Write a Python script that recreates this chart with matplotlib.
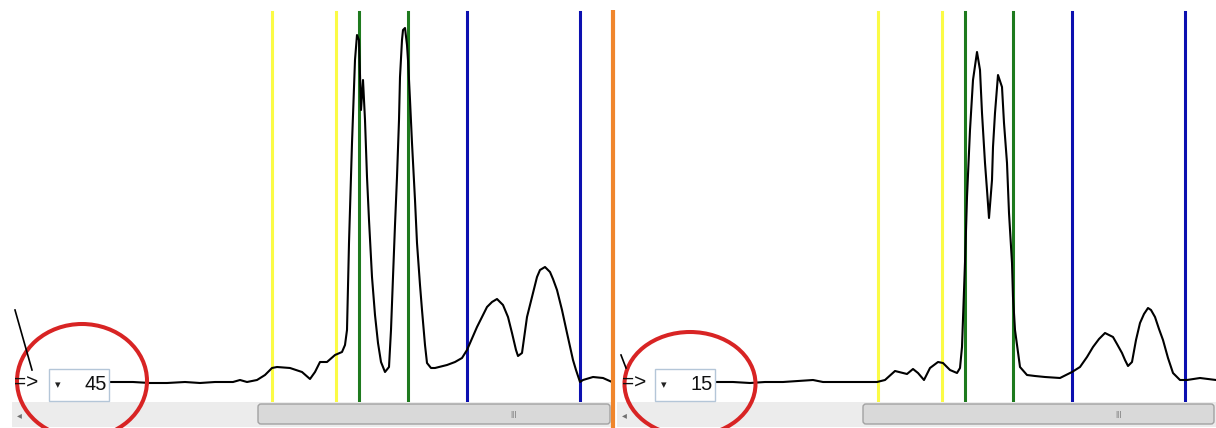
import matplotlib
matplotlib.use("Agg")
import matplotlib.pyplot as plt
from matplotlib.patches import Ellipse, Rectangle, FancyBboxPatch

plt.rcParams['font.family'] = ['Liberation Sans', 'DejaVu Sans']

# trace positions (screen x) and signal height above baseline
left_pos = [110, 133, 150, 167, 185, 200, 215, 233, 240, 247, 257, 265, 272, 277, 290, 302,
            310, 315, 320, 327, 335, 342, 345, 347, 349, 352, 355, 357, 359, 361, 363, 365,
            367, 369, 372, 375, 378, 381, 385, 389, 391, 393, 395, 397, 399, 400, 402, 403,
            405, 407, 408, 410, 412, 415, 417, 420, 422, 425, 427, 431, 435, 447, 455, 462,
            467, 477, 487, 492, 497, 503, 508, 512, 516, 518, 522, 527, 532, 537, 540, 545,
            550, 553, 557, 562, 567, 573, 576, 580, 583, 593, 603, 612]
left_sig = [0, 0, -1, -1, 0, -1, 0, 0, 2, 0, 2, 7, 14, 15, 14, 10,
            3, 10, 20, 20, 27, 30, 37, 52, 139, 239, 322, 347, 342, 272, 302, 262,
            205, 162, 105, 67, 39, 20, 10, 15, 52, 105, 157, 205, 262, 305, 342, 352,
            354, 337, 322, 282, 239, 182, 139, 97, 72, 37, 19, 14, 14, 17, 20, 24,
            32, 55, 75, 80, 83, 77, 65, 49, 32, 26, 29, 65, 85, 105, 112, 115,
            110, 103, 92, 72, 49, 22, 12, 0, 2, 5, 4, 0]

right_pos = [715, 733, 750, 765, 783, 798, 813, 823, 833, 850, 860, 877, 885, 895, 903, 907,
             913, 918, 924, 930, 938, 943, 950, 957, 960, 962, 965, 967, 970, 973, 977, 980,
             982, 985, 987, 989, 992, 993, 995, 998, 1002, 1004, 1007, 1009, 1012, 1013, 1015,
             1020, 1027, 1035, 1045, 1060, 1072, 1080, 1087, 1093, 1099, 1105, 1113, 1117,
             1122, 1125, 1128, 1132, 1136, 1140, 1144, 1148, 1151, 1155, 1159, 1163, 1168,
             1173, 1180, 1187, 1200, 1216]
right_sig = [0, 0, -1, 0, 0, 1, 2, 0, 0, 0, 0, 0, 2, 11, 9, 8,
             13, 9, 2, 14, 20, 19, 12, 9, 14, 35, 119, 185, 252, 302, 330, 312,
             269, 219, 192, 164, 202, 235, 269, 307, 295, 259, 219, 169, 119, 85, 52,
             15, 7, 6, 5, 4, 10, 15, 25, 35, 43, 49, 45, 38,
             29, 22, 16, 20, 42, 59, 68, 74, 72, 65, 53, 42, 24,
             9, 2, 2, 4, 2]

# marker lines for each panel
left_marks = [272, 336, 359, 408, 467, 580]
right_marks = [878, 942, 965, 1013, 1072, 1185]
mark_colors = ['#fbfb45', '#fbfb45', '#1e7a1e', '#1e7a1e', '#0c10b0', '#0c10b0']

box_values = ['45', '15']

W, H = 1216, 428
fig = plt.figure(figsize=(W / 100, H / 100), dpi=100)

panels = [(0, 612, left_pos, left_sig, left_marks), (612, 1216, right_pos, right_sig, right_marks)]
for x0, x1, pos, sig, marks in panels:
    ax = fig.add_axes([x0 / W, (H - 402) / H, (x1 - x0) / W, 402 / H])
    ax.set_xlim(x0, x1)
    ax.set_ylim(-20, 382)
    ax.axis('off')
    for m, c in zip(marks, mark_colors):
        ax.axvline(m, ymin=0, ymax=(402 - 12) / 402, color=c, lw=2.2, zorder=1)
    ax.plot(pos, sig, color='black', lw=1.5, zorder=3, solid_joinstyle='round')

# overlay in screen coordinates for the UI bits
ov = fig.add_axes([0, 0, 1, 1], zorder=5)
ov.set_xlim(0, W)
ov.set_ylim(H, 0)
ov.axis('off')
ov.patch.set_alpha(0)

for off, sx, tx, grip in [(0, 12, 258, 513), (612, 617, 863, 1118)]:
    right = off + 612 if off == 0 else W
    ov.add_patch(Rectangle((sx, 402), right - sx, 25, facecolor='#ececec', edgecolor='none'))
    ov.add_patch(FancyBboxPatch((tx, 404), right - tx - 2, 20, boxstyle='round,pad=0,rounding_size=3',
                                facecolor='#d9d9d9', edgecolor='#a2a2a2', lw=1))
    ov.text(grip, 414, '|||', fontsize=6, color='#6a6a6a', ha='center', va='center')
    ov.text(sx + 7, 415, '◂', fontsize=7, color='#707070', ha='center', va='center')

# the two small strokes left of the boxes
ov.plot([15, 32], [310, 370], color='black', lw=1.2)
ov.plot([621, 626], [355, 368], color='black', lw=1.2)

for bx, arrow_x, val in [(49, 14, box_values[0]), (655, 622, box_values[1])]:
    ov.text(arrow_x, 383, '=>', fontsize=15, ha='left', va='center', color='#111111')
    ov.add_patch(Rectangle((bx, 369), 60, 32, facecolor='white', edgecolor='#b4c6d8', lw=1))
    ov.text(bx + 9, 385, '▾', fontsize=8, ha='center', va='center', color='#222222')
    ov.text(bx + 58, 384, val, fontsize=14.5, ha='right', va='center', color='#111111')

# orange divider
ov.plot([613, 613], [10, H], color='#f0862c', lw=3, solid_capstyle='butt')

# red circles
ov.add_patch(Ellipse((82, 381), 130, 114, fill=False, edgecolor='#d82424', lw=2.9))
ov.add_patch(Ellipse((690, 384), 131, 104, fill=False, edgecolor='#d82424', lw=2.9))

fig.savefig('out.png', dpi=100)
